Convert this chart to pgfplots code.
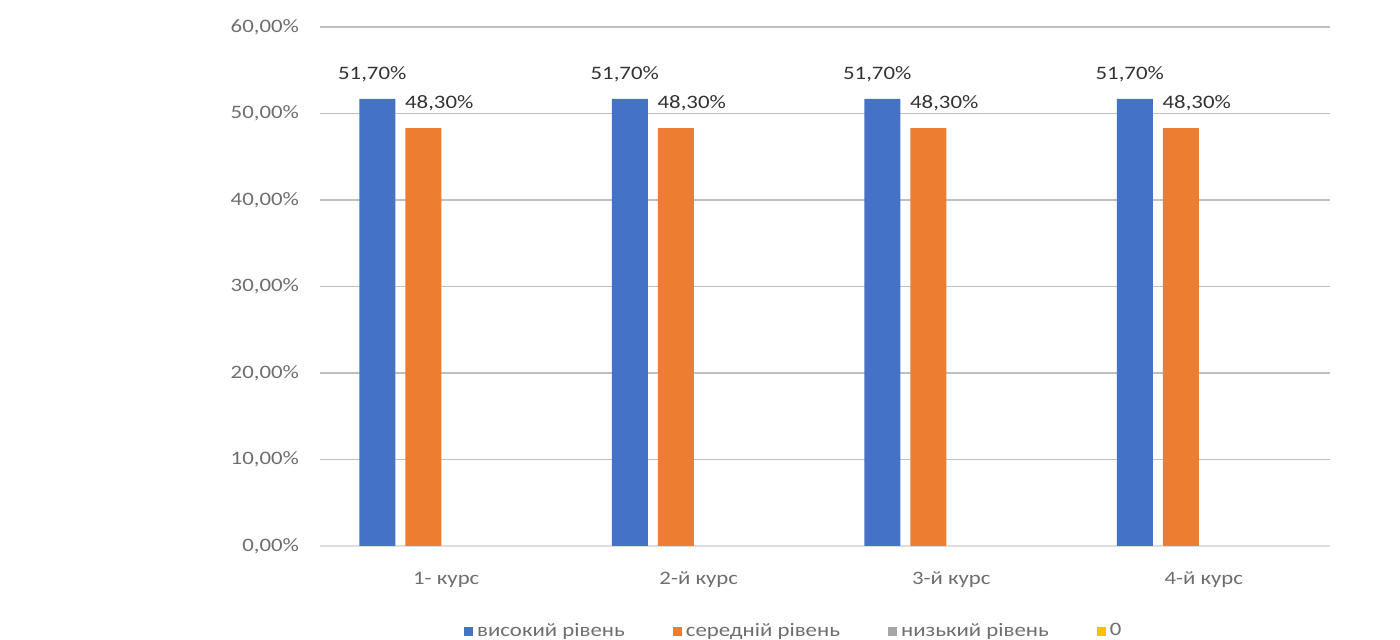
\documentclass[border=0pt]{standalone}
\usepackage{fontspec}
\setmainfont{Carlito}[FakeStretch=1.2]
\usepackage{pgfplots}
\pgfplotsset{compat=1.18}
\definecolor{cblue}{RGB}{68,114,196}
\definecolor{corange}{RGB}{237,125,49}
\definecolor{cgray}{RGB}{165,165,165}
\definecolor{cyellow}{RGB}{255,192,0}
\definecolor{txt}{RGB}{110,110,110}
\definecolor{grid}{RGB}{222,222,222}
\begin{document}
\begin{tikzpicture}
\path[use as bounding box] (0,0) rectangle (700pt,320pt);
\begin{axis}[
  at={(160pt,47pt)}, anchor=south west,
  scale only axis, width=505pt, height=259.5pt,
  xmin=-0.5, xmax=3.5, ymin=0, ymax=60,
  xtick={0,1,2,3}, xticklabels={1- курс,2-й курс,3-й курс,4-й курс},
  ytick={0,10,...,60},
  yticklabel={\pgfmathprintnumber[fixed,fixed zerofill,precision=2,use comma,assume math mode=true]{\tick}\%},
  xmajorgrids=false, ymajorgrids=true, grid style={grid, line width=0.6pt},
  axis x line*=bottom, axis y line*=left,
  y axis line style={draw=none},
  x axis line style={grid, line width=0.8pt},
  major tick length=0pt,
  xtick style={draw=none}, ytick style={draw=none},
  tick label style={text=txt, font=\fontsize{9.5}{11}\selectfont},
  yticklabel style={xshift=-7pt},
  xticklabel style={yshift=-9.5pt},
  bar width=0.1426,
  nodes near coords={\pgfmathprintnumber[fixed,fixed zerofill,precision=2,use comma,assume math mode=true]{\pgfplotspointmeta}\%},
  nodes near coords style={text=black!80, font=\fontsize{9.5}{11}\selectfont},
  legend columns=4,
  legend style={at={(0.47,-0.164)}, anchor=center, draw=none, fill=none,
    font=\fontsize{9.5}{11}\selectfont, text=txt,
    /tikz/every even column/.append style={column sep=22pt}},
  legend image code/.code={\fill[#1,draw=none] (0pt,-2.3pt) rectangle (4.6pt,2.3pt);},
]
\addplot[ybar, fill=cblue, draw=none, bar shift=-0.273,
  nodes near coords style={xshift=-37pt, yshift=5pt}] coordinates {(0,51.7) (1,51.7) (2,51.7) (3,51.7)};
\addlegendentry{високий рівень}
\addplot[ybar, fill=corange, draw=none, bar shift=-0.091,
  nodes near coords style={xshift=-3.5pt, yshift=5pt}] coordinates {(0,48.3) (1,48.3) (2,48.3) (3,48.3)};
\addlegendentry{середній рівень}
\addlegendimage{fill=cgray, draw=none}
\addlegendentry{низький рівень}
\addlegendimage{fill=cyellow, draw=none}
\addlegendentry{0}
\end{axis}
\end{tikzpicture}
\end{document}
